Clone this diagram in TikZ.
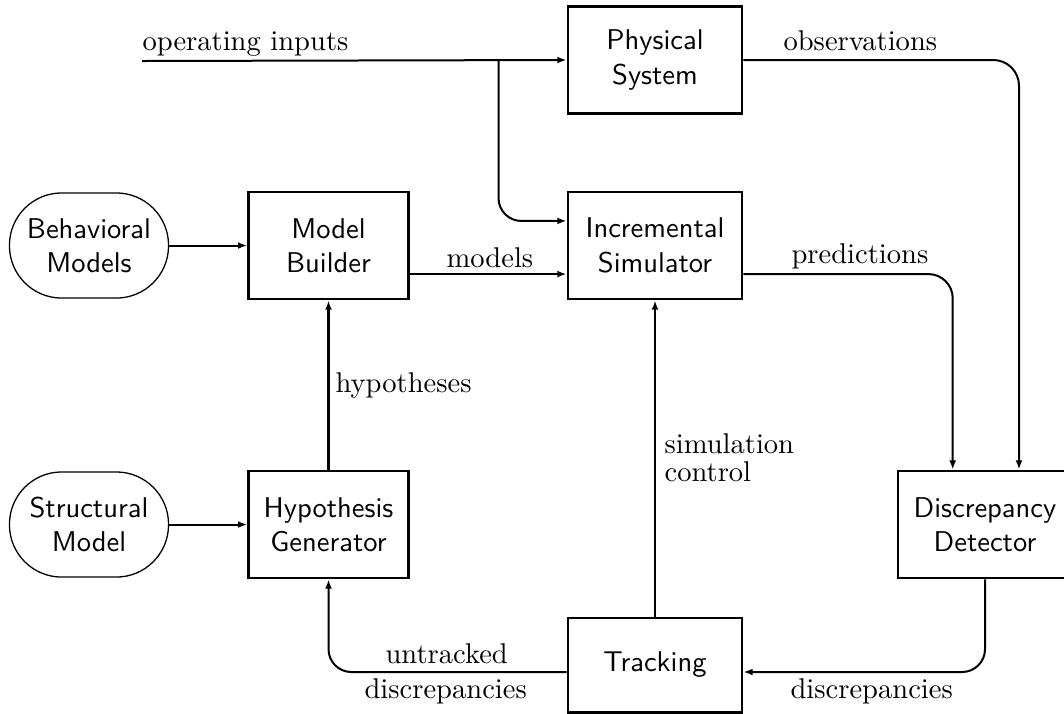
\documentclass[tikz,border=0pt]{standalone}
\usepackage{tikz}
\usetikzlibrary{
  arrows.meta,
  positioning,
  calc
}

\begin{document}
\begin{tikzpicture}[
  x=0.3501pt, y=-0.3501pt,
  block/.style={draw, line width=0.95pt, minimum width=61pt, minimum height=37.5pt,
                align=center, inner sep=2pt, font=\sffamily},
  narrow/.style={block, minimum width=56pt},
  store/.style={draw, line width=0.45pt, rounded corners=18.3pt, minimum width=55.7pt,
                minimum height=36.8pt, align=center, inner sep=1pt, font=\sffamily},
  flow/.style={line width=0.7pt, -{Latex[length=3.2pt, width=2.4pt]}},
  lbl/.style={inner sep=0pt, anchor=base west}
]
\useasboundingbox (0,0) rectangle (1064,713);

\node[block] (phys) at (655, 60) {Physical\\System};
\node[block] (sim) at (655, 245.5) {Incremental\\Simulator};
\node[narrow] (mb) at (328.5, 245.5) {Model\\Builder};
\node[narrow] (hg) at (328.5, 524.5) {Hypothesis\\Generator};
\node[block] (dd) at (985, 524.5) {Discrepancy\\Detector};
\node[block, minimum height=33pt] (trk) at (655, 665) {Tracking};
\node[store] (beh) at (89, 245.5) {Behavioral\\Models};
\node[store] (str) at (89, 524.5) {Structural\\Model};

\coordinate (opin) at (142, 61);
\coordinate (tap) at (498.5, 61);

\draw[flow] (opin) -- (phys.west);
\draw[flow, rounded corners=8pt] (tap) |- ([yshift=8.6pt]sim.west);
\draw[flow] (beh.east) -- (mb.west);
\draw[flow] ([yshift=-10pt]mb.east) -- ([yshift=-10pt]sim.west);
\draw[flow, rounded corners=9pt] (phys.east) -| ([xshift=11.9pt]dd.north);
\draw[flow, rounded corners=8.5pt] ([yshift=-10pt]sim.east) -| ([xshift=-11.3pt]dd.north);
\draw[flow, rounded corners=8pt] (dd.south) |- ([yshift=-2.45pt]trk.east);
\draw[flow, rounded corners=8pt] ([yshift=-2.45pt]trk.west) -| (hg.south);
\draw[flow] (trk.north) -- (sim.south);
\draw[flow, line width=1pt] (hg.north) -- (mb.south);
\draw[flow] (str.east) -- (hg.west);

\node[lbl] (lopin) at (142, 50) {operating inputs};
\node[lbl] (lobs) at (783, 50) {observations};
\node[lbl] (lmod) at (446, 267) {models};
\node[lbl] (lpred) at (791, 263) {predictions};
\node[lbl] (lhyp) at (335, 392) {hypotheses};
\node[inner sep=0pt, anchor=north west, align=left] (lctl) at (664, 433) {simulation\\[-2pt]control};
\node[lbl] (luntr) at (385, 663) {untracked};
\node[lbl] (ldisc) at (364, 698) {discrepancies};
\node[lbl] (ldisc2) at (790, 698) {discrepancies};
\end{tikzpicture}
\end{document}
